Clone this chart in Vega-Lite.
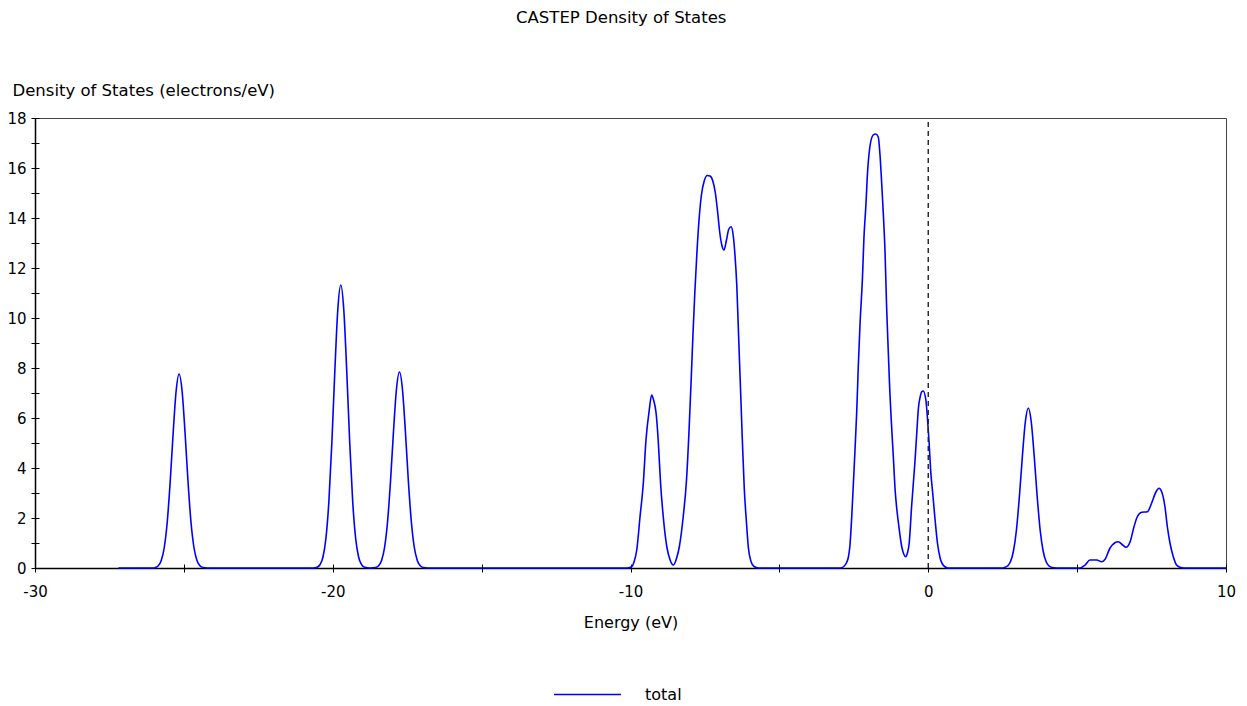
{
  "$schema": "https://vega.github.io/schema/vega-lite/v6.json",
  "width": 1191,
  "height": 450,
  "autosize": {"type": "none"},
  "padding": {"left": 35, "top": 118, "right": 21, "bottom": 138},
  "background": "white",
  "title": {"text": "CASTEP Density of States", "fontSize": 16.5, "fontWeight": "normal", "color": "#000", "anchor": "middle", "frame": "bounds", "offset": 56},
  "config": {"view": {"stroke": "#444", "strokeWidth": 1}, "font": "DejaVu Sans"},
  "data": {"values": [
    {"energy": -27.2, "dos": 0}, {"energy": -26.0, "dos": 0},
    {"energy": -25.96, "dos": 0.02}, {"energy": -25.86, "dos": 0.09}, {"energy": -25.76, "dos": 0.30}, {"energy": -25.66, "dos": 0.81}, {"energy": -25.56, "dos": 1.82}, {"energy": -25.46, "dos": 3.44}, {"energy": -25.36, "dos": 5.40}, {"energy": -25.26, "dos": 7.08}, {"energy": -25.16, "dos": 7.76}, {"energy": -25.06, "dos": 7.08}, {"energy": -24.96, "dos": 5.40}, {"energy": -24.86, "dos": 3.44}, {"energy": -24.76, "dos": 1.82}, {"energy": -24.66, "dos": 0.81}, {"energy": -24.56, "dos": 0.30}, {"energy": -24.46, "dos": 0.09}, {"energy": -24.36, "dos": 0.02}, {"energy": -24.2, "dos": 0},
    {"energy": -20.65, "dos": 0}, {"energy": -20.53, "dos": 0.03}, {"energy": -20.43, "dos": 0.13}, {"energy": -20.33, "dos": 0.43}, {"energy": -20.23, "dos": 1.18}, {"energy": -20.13, "dos": 2.66}, {"energy": -20.03, "dos": 5.01}, {"energy": -19.93, "dos": 7.88}, {"energy": -19.83, "dos": 10.34}, {"energy": -19.73, "dos": 11.32}, {"energy": -19.63, "dos": 10.34}, {"energy": -19.53, "dos": 7.88}, {"energy": -19.43, "dos": 5.01}, {"energy": -19.33, "dos": 2.66}, {"energy": -19.23, "dos": 1.18}, {"energy": -19.13, "dos": 0.43}, {"energy": -19.03, "dos": 0.13}, {"energy": -18.93, "dos": 0.03}, {"energy": -18.75, "dos": 0},
    {"energy": -18.56, "dos": 0.02}, {"energy": -18.46, "dos": 0.09}, {"energy": -18.36, "dos": 0.30}, {"energy": -18.26, "dos": 0.82}, {"energy": -18.16, "dos": 1.84}, {"energy": -18.06, "dos": 3.47}, {"energy": -17.96, "dos": 5.46}, {"energy": -17.86, "dos": 7.16}, {"energy": -17.76, "dos": 7.84}, {"energy": -17.66, "dos": 7.16}, {"energy": -17.56, "dos": 5.46}, {"energy": -17.46, "dos": 3.47}, {"energy": -17.36, "dos": 1.84}, {"energy": -17.26, "dos": 0.82}, {"energy": -17.16, "dos": 0.30}, {"energy": -17.06, "dos": 0.09}, {"energy": -16.96, "dos": 0.02}, {"energy": -16.8, "dos": 0},
    {"energy": -10.1, "dos": 0}, {"energy": -9.96, "dos": 0.05}, {"energy": -9.88, "dos": 0.25}, {"energy": -9.79, "dos": 0.72}, {"energy": -9.68, "dos": 2.05}, {"energy": -9.57, "dos": 3.39}, {"energy": -9.48, "dos": 5.12}, {"energy": -9.37, "dos": 6.32}, {"energy": -9.29, "dos": 6.92}, {"energy": -9.22, "dos": 6.7}, {"energy": -9.14, "dos": 6.19}, {"energy": -9.07, "dos": 5.12}, {"energy": -8.99, "dos": 3.39}, {"energy": -8.90, "dos": 2.05}, {"energy": -8.78, "dos": 0.85}, {"energy": -8.67, "dos": 0.32}, {"energy": -8.56, "dos": 0.12},
    {"energy": -8.45, "dos": 0.4}, {"energy": -8.36, "dos": 0.85}, {"energy": -8.23, "dos": 2.05}, {"energy": -8.12, "dos": 3.5}, {"energy": -8.03, "dos": 5.6}, {"energy": -7.96, "dos": 7.6}, {"energy": -7.90, "dos": 9.4}, {"energy": -7.84, "dos": 11.0}, {"energy": -7.77, "dos": 12.6}, {"energy": -7.70, "dos": 13.9}, {"energy": -7.62, "dos": 14.9}, {"energy": -7.52, "dos": 15.5}, {"energy": -7.42, "dos": 15.7}, {"energy": -7.33, "dos": 15.68}, {"energy": -7.24, "dos": 15.5}, {"energy": -7.15, "dos": 15.0}, {"energy": -7.07, "dos": 14.2}, {"energy": -7.00, "dos": 13.4}, {"energy": -6.93, "dos": 12.9}, {"energy": -6.86, "dos": 12.72}, {"energy": -6.78, "dos": 13.1}, {"energy": -6.70, "dos": 13.55}, {"energy": -6.62, "dos": 13.65}, {"energy": -6.55, "dos": 13.3}, {"energy": -6.49, "dos": 12.5}, {"energy": -6.43, "dos": 11.3}, {"energy": -6.37, "dos": 9.3}, {"energy": -6.30, "dos": 7.0}, {"energy": -6.24, "dos": 5.0}, {"energy": -6.18, "dos": 3.2}, {"energy": -6.11, "dos": 1.9}, {"energy": -6.04, "dos": 0.8}, {"energy": -5.95, "dos": 0.25}, {"energy": -5.85, "dos": 0.06}, {"energy": -5.7, "dos": 0},
    {"energy": -2.95, "dos": 0}, {"energy": -2.85, "dos": 0.05}, {"energy": -2.75, "dos": 0.2}, {"energy": -2.68, "dos": 0.45}, {"energy": -2.63, "dos": 0.9}, {"energy": -2.57, "dos": 2.05}, {"energy": -2.52, "dos": 3.25}, {"energy": -2.46, "dos": 4.72}, {"energy": -2.40, "dos": 6.32}, {"energy": -2.35, "dos": 8.05}, {"energy": -2.29, "dos": 9.79}, {"energy": -2.21, "dos": 11.6}, {"energy": -2.16, "dos": 13.2}, {"energy": -2.09, "dos": 14.6}, {"energy": -2.05, "dos": 15.6}, {"energy": -1.96, "dos": 16.85}, {"energy": -1.85, "dos": 17.32}, {"energy": -1.77, "dos": 17.36}, {"energy": -1.68, "dos": 17.25}, {"energy": -1.62, "dos": 16.52}, {"energy": -1.57, "dos": 15.52}, {"energy": -1.51, "dos": 14.19}, {"energy": -1.45, "dos": 12.59}, {"energy": -1.40, "dos": 10.5}, {"energy": -1.34, "dos": 8.59}, {"energy": -1.29, "dos": 7.05}, {"energy": -1.23, "dos": 5.65}, {"energy": -1.17, "dos": 4.39}, {"energy": -1.12, "dos": 3.25}, {"energy": -1.06, "dos": 2.4}, {"energy": -1.00, "dos": 1.79}, {"energy": -0.89, "dos": 0.85}, {"energy": -0.82, "dos": 0.55}, {"energy": -0.76, "dos": 0.45}, {"energy": -0.70, "dos": 0.6}, {"energy": -0.64, "dos": 0.99}, {"energy": -0.56, "dos": 2.45}, {"energy": -0.45, "dos": 4.19}, {"energy": -0.39, "dos": 5.32}, {"energy": -0.33, "dos": 6.4}, {"energy": -0.27, "dos": 6.85}, {"energy": -0.22, "dos": 7.05}, {"energy": -0.17, "dos": 7.08}, {"energy": -0.08, "dos": 6.72}, {"energy": -0.03, "dos": 6.05}, {"energy": 0.03, "dos": 4.99}, {"energy": 0.08, "dos": 3.92}, {"energy": 0.15, "dos": 2.99}, {"energy": 0.23, "dos": 1.92}, {"energy": 0.31, "dos": 0.99}, {"energy": 0.40, "dos": 0.39}, {"energy": 0.48, "dos": 0.15}, {"energy": 0.56, "dos": 0.05}, {"energy": 0.65, "dos": 0},
    {"energy": 2.5, "dos": 0}, {"energy": 2.56, "dos": 0.02}, {"energy": 2.66, "dos": 0.08}, {"energy": 2.76, "dos": 0.25}, {"energy": 2.86, "dos": 0.67}, {"energy": 2.96, "dos": 1.50}, {"energy": 3.06, "dos": 2.84}, {"energy": 3.16, "dos": 4.45}, {"energy": 3.26, "dos": 5.84}, {"energy": 3.36, "dos": 6.40}, {"energy": 3.46, "dos": 5.84}, {"energy": 3.56, "dos": 4.45}, {"energy": 3.66, "dos": 2.84}, {"energy": 3.76, "dos": 1.50}, {"energy": 3.86, "dos": 0.67}, {"energy": 3.96, "dos": 0.25}, {"energy": 4.06, "dos": 0.08}, {"energy": 4.16, "dos": 0.02}, {"energy": 4.3, "dos": 0},
    {"energy": 5.10, "dos": 0}, {"energy": 5.27, "dos": 0.12}, {"energy": 5.43, "dos": 0.32}, {"energy": 5.66, "dos": 0.32}, {"energy": 5.82, "dos": 0.25}, {"energy": 5.94, "dos": 0.35}, {"energy": 6.10, "dos": 0.79}, {"energy": 6.27, "dos": 1.01}, {"energy": 6.38, "dos": 1.05}, {"energy": 6.53, "dos": 0.92}, {"energy": 6.64, "dos": 0.83}, {"energy": 6.78, "dos": 1.05}, {"energy": 6.91, "dos": 1.65}, {"energy": 7.02, "dos": 2.05}, {"energy": 7.17, "dos": 2.23}, {"energy": 7.36, "dos": 2.25}, {"energy": 7.50, "dos": 2.59}, {"energy": 7.65, "dos": 3.05}, {"energy": 7.75, "dos": 3.19}, {"energy": 7.84, "dos": 3.05}, {"energy": 7.95, "dos": 2.45}, {"energy": 8.03, "dos": 1.65}, {"energy": 8.12, "dos": 0.99}, {"energy": 8.23, "dos": 0.45}, {"energy": 8.34, "dos": 0.12}, {"energy": 8.48, "dos": 0.02}, {"energy": 8.6, "dos": 0}, {"energy": 10.0, "dos": 0}
  ]},
  "layer": [
    {
      "mark": {"type": "line", "interpolate": "monotone", "strokeWidth": 1.6},
      "encoding": {
        "x": {"field": "energy", "type": "quantitative", "scale": {"domain": [-30, 10], "nice": false, "zero": false},
          "axis": {"orient": "bottom", "values": [-30, -25, -20, -15, -10, -5, 0, 5, 10], "labelExpr": "datum.value % 10 === 0 ? '' + datum.value : ''", "labelFlush": false, "labelOverlap": false, "labelBound": false, "grid": false, "tickSize": 4, "tickColor": "#000", "domainColor": "#000", "domainWidth": 1.5, "labelFontSize": 15, "labelColor": "#000", "labelPadding": 12, "title": "Energy (eV)", "titleFontSize": 16, "titleFontWeight": "normal", "titleColor": "#000", "titleY": 54, "titleBaseline": "middle"}},
        "y": {"field": "dos", "type": "quantitative", "scale": {"domain": [0, 18], "nice": false},
          "axis": {"orient": "left", "values": [0, 1, 2, 3, 4, 5, 6, 7, 8, 9, 10, 11, 12, 13, 14, 15, 16, 17, 18], "labelExpr": "datum.value % 2 === 0 ? '' + datum.value : ''", "labelFlush": false, "labelOverlap": false, "labelBound": false, "grid": false, "tickSize": 4, "tickColor": "#000", "domainColor": "#000", "domainWidth": 1.5, "labelFontSize": 15, "labelColor": "#000", "labelPadding": 5, "title": "Density of States (electrons/eV)", "titleFontSize": 16.5, "titleFontWeight": "normal", "titleColor": "#000", "titleAngle": 0, "titleAlign": "left", "titleBaseline": "middle", "titleX": -23, "titleY": -28}},
        "color": {"datum": "total", "type": "nominal", "scale": {"range": ["#0000ff"]},
          "legend": {"orient": "none", "legendX": 518, "legendY": 542, "title": null, "symbolType": "stroke", "symbolSize": 4489, "symbolStrokeWidth": 1.5, "labelFontSize": 16, "labelColor": "#000", "labelOffset": 23, "padding": 0}}
      }
    },
    {
      "data": {"values": [{"energy": 0, "dos": 0, "top": 18}]},
      "mark": {"type": "rule", "strokeDash": [5, 4], "color": "#222", "strokeWidth": 1.4},
      "encoding": {
        "x": {"field": "energy", "type": "quantitative",
          "axis": {"orient": "top", "offset": -450, "values": [-30, -25, -20, -15, -10, -5, 0, 5, 10], "tickSize": 4, "tickColor": "#000", "labels": false, "domain": false, "grid": false, "title": null}},
        "y": {"field": "dos", "type": "quantitative",
          "axis": {"orient": "right", "offset": -1191, "values": [0, 1, 2, 3, 4, 5, 6, 7, 8, 9, 10, 11, 12, 13, 14, 15, 16, 17, 18], "tickSize": 4, "tickColor": "#000", "labels": false, "domain": false, "grid": false, "title": null}},
        "y2": {"field": "top"}
      }
    }
  ],
  "resolve": {"axis": {"x": "independent", "y": "independent"}}
}
